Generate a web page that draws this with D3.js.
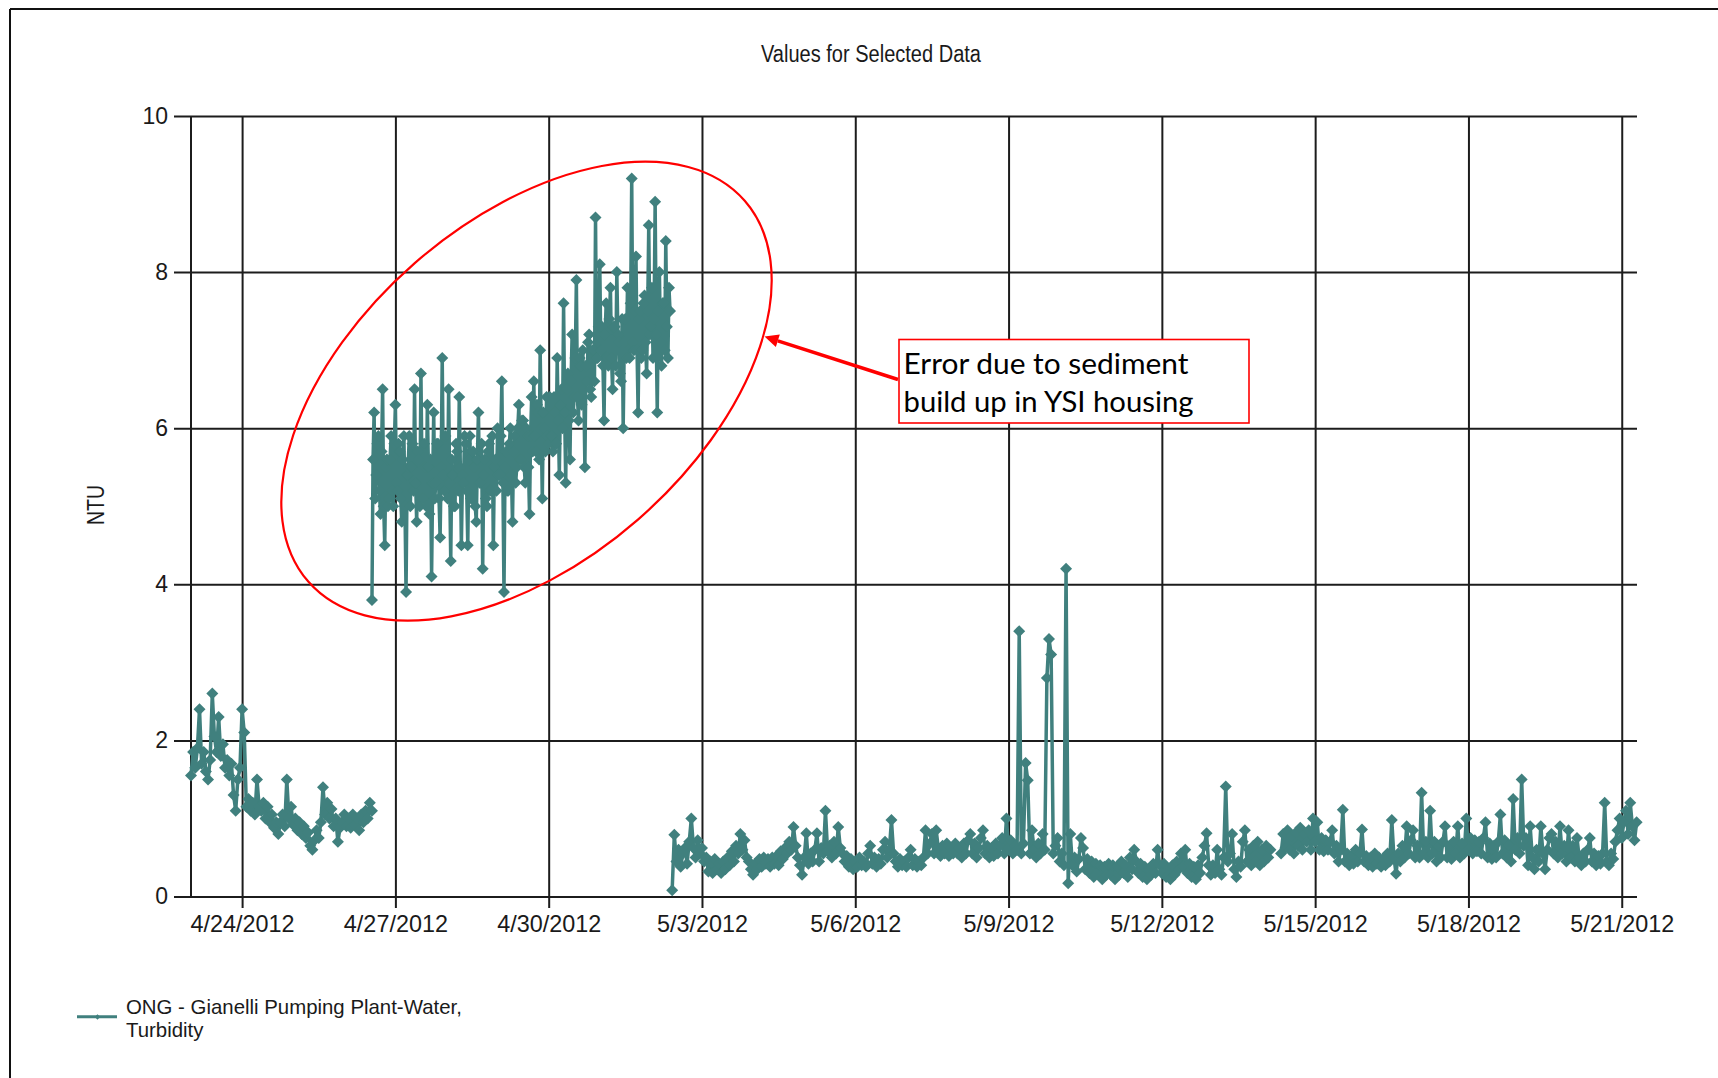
<!DOCTYPE html>
<html>
<head>
<meta charset="utf-8">
<script src="https://cdn.jsdelivr.net/npm/d3@7"></script>
<style>
  body { margin: 0; background: #fff; }
  svg { display: block; }
</style>
</head>
<body>
<svg id="chart" width="1718" height="1078"></svg>
<script>
// ---- data -------------------------------------------------------------
const chartTitle = "Values for Selected Data";
const yAxisLabel = "NTU";
const legendLines = ["ONG - Gianelli Pumping Plant-Water,", "Turbidity"];
const noteLines = ["Error due to sediment", "build up in YSI housing"];

const xTickDates = ["2012-04-24", "2012-04-27", "2012-04-30", "2012-05-03", "2012-05-06",
                    "2012-05-09", "2012-05-12", "2012-05-15", "2012-05-18", "2012-05-21"];
const yTickValues = [0, 2, 4, 6, 8, 10];
const xDomain = ["2012-04-23T00:00", "2012-05-21T07:10"];
const yDomain = [0, 10];

// turbidity readings (NTU); each block is continuous from its start time
const block1Start = "2012-04-23T00:00", block1StepMin = 60;
const block1 = [
  1.55,1.85,1.65,1.9,2.4,1.7,1.85,1.6,1.5,1.75,2.6,2.05,1.85,2.3,1.8,1.95,1.65,1.75,1.55,1.7,1.3,1.1,1.5,1.65,
  2.4,2.1,1.15,1.25,1.1,1.2,1.05,1.5,1.15,1.1,1.2,1.0,1.15,0.95,1.05,0.88,0.95,0.8,0.95,1.05,0.9,1.5,1.0,1.15,
  0.92,1.0,0.85,0.95,0.8,0.9,0.75,0.82,0.65,0.6,0.72,0.85,0.75,0.95,1.4,1.05,1.2,1.0,1.12,0.9,1.0,0.7,0.88,0.95,
  1.05,0.9,1.0,0.88,1.05,0.92,1.0,0.85,1.05,0.95,1.1,1.0,1.2,1.1
];

const block2Start = "2012-04-26T13:00", block2StepMin = 30;
const block2 = [
  3.8,5.6,6.2,5.1,5.4,5.8,5.9,5.2,4.9,5.7,6.5,5.0,4.5,5.5,5.6,5.0,5.1,5.6,5.9,5.2,5.0,5.8,
  6.3,5.3,5.2,5.8,5.7,5.1,4.8,5.6,5.9,5.0,3.9,5.4,5.5,5.9,5.0,5.5,5.8,5.2,6.5,5.3,4.8,5.7,5.6,5.0,6.7,5.4,
  5.1,5.8,5.5,5.0,6.3,5.5,4.9,5.6,4.1,5.3,6.2,5.1,5.3,5.8,5.8,5.1,4.6,5.5,6.9,5.4,5.2,5.9,
  5.6,5.1,6.5,5.3,4.3,5.6,5.4,5.0,5.0,5.8,5.7,5.2,6.4,5.5,4.5,5.4,5.3,5.9,5.8,5.2,4.5,5.6,5.9,5.1,
  5.1,5.7,5.5,5.0,4.8,5.6,6.2,5.3,5.3,5.8,4.2,5.4,5.6,5.1,5.0,5.7,5.8,5.2,5.2,5.9,4.5,5.5,5.6,5.2,
  6.0,5.4,5.4,5.9,6.6,5.3,3.9,5.5,5.7,5.2,5.2,5.8,6.0,5.4,4.8,5.7,5.9,5.3,5.5,6.0,6.3,5.6,5.6,6.1,
  6.1,5.5,5.3,6.0,5.9,5.5,4.9,5.9,6.4,5.7,6.6,5.9,5.7,6.3,6.2,5.6,7.0,6.0,5.1,6.2,6.0,5.7,6.4,5.9,
  5.8,6.4,6.3,5.9,5.7,6.4,6.2,5.8,6.9,6.1,5.4,6.3,6.5,6.0,7.6,6.2,5.3,6.5,6.7,6.1,5.6,6.6,7.2,6.2,
  6.4,6.9,7.9,6.4,6.1,6.9,6.8,6.3,7.0,6.5,5.5,6.8,6.6,7.1,7.2,6.5,6.4,7.0,7.0,6.6,8.7,6.9,6.9,7.3,
  8.1,7.0,7.3,6.8,6.1,7.2,7.6,6.9,6.8,7.4,7.8,6.9,6.5,7.3,7.3,6.8,8.0,7.2,7.1,6.7,6.6,7.4,6.0,7.1,
  7.4,6.9,7.8,7.2,6.9,7.6,9.2,7.1,7.0,7.5,8.2,7.0,6.2,7.4,7.5,6.9,7.0,7.6,7.7,7.1,6.7,7.5,8.6,7.2,
  7.3,7.8,6.9,7.4,8.9,7.2,6.2,7.5,8.0,7.1,6.8,7.6,7.6,7.0,8.4,7.3,6.9,7.8,7.5
];

const block3Start = "2012-05-02T10:00", block3StepMin = 60;
const block3 = [
  0.08,0.79,0.45,0.6,0.38,0.55,0.62,0.42,0.7,1.0,0.62,0.5,0.72,0.55,
  0.62,0.45,0.5,0.32,0.45,0.3,0.48,0.35,0.42,0.3,0.45,0.35,0.5,0.4,0.58,0.45,0.65,0.55,0.8,0.6,0.72,0.5,0.45,0.35,
  0.28,0.42,0.35,0.48,0.38,0.5,0.42,0.48,0.38,0.5,0.42,0.52,0.4,0.58,0.48,0.62,0.55,0.7,0.6,0.89,0.65,0.5,0.4,0.28,
  0.5,0.81,0.42,0.55,0.45,0.6,0.81,0.45,0.62,0.55,1.1,0.58,0.65,0.5,0.7,0.55,0.89,0.62,0.55,0.45,0.52,0.38,0.48,0.35,
  0.45,0.38,0.5,0.4,0.45,0.38,0.55,0.65,0.42,0.5,0.38,0.48,0.42,0.6,0.7,0.5,0.6,0.98,0.55,0.45,0.38,0.48,0.4,0.45,
  0.38,0.5,0.6,0.4,0.48,0.38,0.45,0.4,0.5,0.85,0.55,0.68,0.8,0.55,0.85,0.62,0.52,0.65,0.55,0.68,0.52,0.62,0.55,0.68,
  0.55,0.62,0.5,0.68,0.55,0.72,0.8,0.55,0.68,0.5,0.62,0.75,0.85,0.55,0.65,0.5,0.62,0.52,0.68,0.55,0.65,0.75,0.55,1.0,
  0.62,0.72,0.55,0.65,0.6,3.4,0.55,0.68,1.71,1.49,0.55,0.85,0.6,0.5,0.68,0.55,0.8,0.6,2.8,3.3,3.1,0.55,0.65,0.75,
  0.45,0.55,0.4,4.2,0.17,0.8,0.4,0.5,0.32,0.48,0.75,0.62,0.35,0.48,0.3,0.45,0.25,0.42,0.3,0.4,0.22,0.38,0.28,0.42,
  0.28,0.4,0.22,0.38,0.28,0.45,0.3,0.4,0.25,0.5,0.35,0.6,0.45,0.3,0.42,0.25,0.38,0.22,0.35,0.28,0.42,0.3,0.6,0.4,
  0.3,0.42,0.25,0.35,0.22,0.4,0.28,0.45,0.35,0.55,0.38,0.6,0.3,0.42,0.25,0.38,0.22,0.4,0.3,0.5,0.65,0.81,0.4,0.28,
  0.4,0.3,0.6,0.35,0.28,0.5,1.41,0.45,0.55,0.8,0.35,0.25,0.45,0.38,0.7,0.85,0.45,0.6,0.4,0.65,0.45,0.7,0.4,0.6,
  0.45,0.65,0.5,0.6
];

const block4Start = "2012-05-14T08:00", block4StepMin = 60;
const block4 = [
  0.55,0.8,0.62,0.85,0.6,0.78,0.55,0.82,0.65,0.88,0.6,0.8,0.7,0.85,0.6,1.0,
  0.7,0.95,0.6,0.75,0.58,0.72,0.6,0.7,0.85,0.55,0.65,0.45,0.6,1.11,0.45,0.55,0.4,0.52,0.42,0.6,0.45,0.55,0.86,0.45,
  0.52,0.4,0.5,0.38,0.55,0.42,0.5,0.38,0.48,0.4,0.55,0.45,0.98,0.5,0.29,0.55,0.45,0.65,0.5,0.9,0.55,0.72,0.85,0.5,
  0.65,0.5,1.33,0.55,0.7,0.5,1.1,0.55,0.7,0.45,0.65,0.5,0.7,0.9,0.5,0.65,0.48,0.7,0.55,0.9,0.5,0.68,0.55,1.0,
  0.6,0.75,0.55,0.72,0.58,0.7,0.55,0.75,0.95,0.5,0.68,0.48,0.65,0.5,0.7,1.05,0.55,0.72,0.5,0.65,0.45,1.25,0.6,0.75,
  0.55,1.5,0.65,0.75,0.4,0.9,0.5,0.35,0.6,0.45,0.9,0.55,0.35,0.6,0.75,0.8,0.55,0.7,0.5,0.9,0.55,0.65,0.45,0.85,
  0.5,0.65,0.45,0.75,0.5,0.4,0.55,0.45,0.6,0.75,0.45,0.55,0.4,0.52,0.42,0.55,1.2,0.45,0.4,0.55,0.48,0.7,0.85,1.0,
  0.75,0.95,1.1,0.8,1.2,0.9,0.72,0.95
];

// ---- setup ------------------------------------------------------------
const seriesColor = "#40807e";
const gridColor = "#1c1c1c";
const textColor = "#1a1a1a";
const sans = "'Liberation Sans', Arial, sans-serif";

const parseTime = d3.timeParse("%Y-%m-%dT%H:%M");
const parseDay = d3.timeParse("%Y-%m-%d");

const svg = d3.select("#chart");

const x = d3.scaleTime()
  .domain(xDomain.map(parseTime))
  .range([191, 1637]);
const y = d3.scaleLinear()
  .domain(yDomain)
  .range([896.5, 116]);

// join the blocks into one series, with a break between blocks
const blocks = [
  { start: block1Start, step: block1StepMin, values: block1 },
  { start: block2Start, step: block2StepMin, values: block2 },
  { start: block3Start, step: block3StepMin, values: block3 },
  { start: block4Start, step: block4StepMin, values: block4 }
];
const points = [];
blocks.forEach((b, k) => {
  const t0 = parseTime(b.start);
  b.values.forEach((v, i) => points.push({ t: d3.timeMinute.offset(t0, i * b.step), v }));
  if (k < blocks.length - 1) points.push({ t: null, v: null });
});

// ---- frame ------------------------------------------------------------
svg.append("line").attr("x1", 10).attr("x2", 1718).attr("y1", 9).attr("y2", 9)
  .attr("stroke", "#111").attr("stroke-width", 2);
svg.append("line").attr("x1", 10).attr("x2", 10).attr("y1", 9).attr("y2", 1078)
  .attr("stroke", "#111").attr("stroke-width", 2);

// ---- title ------------------------------------------------------------
svg.append("text")
  .attr("x", 871).attr("y", 62)
  .attr("text-anchor", "middle")
  .attr("font-family", sans).attr("font-size", 23)
  .attr("textLength", 220).attr("lengthAdjust", "spacingAndGlyphs")
  .attr("fill", textColor)
  .text(chartTitle);

// ---- axes & grid ------------------------------------------------------
const xRight = x.range()[1];
const gy = svg.append("g")
  .attr("transform", `translate(${xRight},0)`)
  .call(d3.axisLeft(y).tickValues(yTickValues).tickSize(xRight - 174).tickPadding(6)
    .tickFormat(d3.format("d")));
gy.select(".domain").remove();
gy.selectAll(".tick line").attr("stroke", gridColor).attr("stroke-width", 2);
gy.selectAll(".tick text")
  .attr("font-family", sans).attr("font-size", 23).attr("fill", textColor);

const gx = svg.append("g")
  .attr("transform", `translate(0,${y(10)})`)
  .call(d3.axisBottom(x).tickValues(xTickDates.map(parseDay)).tickSize(908 - y(10)).tickPadding(7)
    .tickFormat(d3.timeFormat("%-m/%-d/%Y")));
gx.select(".domain").remove();
gx.selectAll(".tick line").attr("stroke", gridColor).attr("stroke-width", 2);
gx.selectAll(".tick text")
  .attr("font-family", sans).attr("font-size", 23.4).attr("fill", textColor);

// left axis line
svg.append("line")
  .attr("x1", x.range()[0]).attr("x2", x.range()[0])
  .attr("y1", y(10)).attr("y2", y(0))
  .attr("stroke", gridColor).attr("stroke-width", 2);

// y axis title
svg.append("text")
  .attr("transform", "translate(104,505) rotate(-90)")
  .attr("text-anchor", "middle")
  .attr("font-family", sans).attr("font-size", 23)
  .attr("textLength", 40).attr("lengthAdjust", "spacingAndGlyphs")
  .attr("fill", textColor)
  .text(yAxisLabel);

// ---- series -----------------------------------------------------------
const line = d3.line()
  .defined(d => d.v != null)
  .x(d => x(d.t))
  .y(d => y(d.v));

svg.append("path")
  .datum(points)
  .attr("fill", "none")
  .attr("stroke", seriesColor)
  .attr("stroke-width", 3.5)
  .attr("stroke-linejoin", "round")
  .attr("d", line);

const marker = d3.symbol().type(d3.symbolSquare).size(72);
svg.append("g")
  .selectAll("path")
  .data(points.filter(d => d.v != null))
  .join("path")
  .attr("transform", d => `translate(${x(d.t)},${y(d.v)}) rotate(45)`)
  .attr("d", marker)
  .attr("fill", seriesColor);

// ---- legend -----------------------------------------------------------
svg.append("line")
  .attr("x1", 77).attr("x2", 117).attr("y1", 1016.7).attr("y2", 1016.7)
  .attr("stroke", seriesColor).attr("stroke-width", 3);
svg.append("path")
  .attr("transform", "translate(97.5,1017) rotate(45)")
  .attr("d", d3.symbol().type(d3.symbolSquare).size(14))
  .attr("fill", seriesColor);
svg.append("text")
  .attr("font-family", sans).attr("font-size", 20.4).attr("fill", textColor)
  .selectAll("tspan")
  .data(legendLines)
  .join("tspan")
  .attr("x", 126)
  .attr("y", (d, i) => 1014 + i * 22.7)
  .text(d => d);

// ---- annotation -------------------------------------------------------
const noteRed = "#ff0000";
svg.append("ellipse")
  .attr("transform", "translate(526.5,391.2) rotate(-41.1)")
  .attr("rx", 289.6).attr("ry", 170)
  .attr("fill", "none").attr("stroke", noteRed).attr("stroke-width", 2.2);

// arrow from the note box to the ellipse
const tail = [898, 379.5], tip = [764.5, 336.5];
const ang = Math.atan2(tip[1] - tail[1], tip[0] - tail[0]);
const headLen = 14, headHalf = 6.5;
const base = [tip[0] - headLen * Math.cos(ang), tip[1] - headLen * Math.sin(ang)];
svg.append("line")
  .attr("x1", tail[0]).attr("y1", tail[1]).attr("x2", base[0]).attr("y2", base[1])
  .attr("stroke", noteRed).attr("stroke-width", 3.5);
svg.append("path")
  .attr("d", d3.line()([
    tip,
    [base[0] + headHalf * Math.sin(ang), base[1] - headHalf * Math.cos(ang)],
    [base[0] - headHalf * Math.sin(ang), base[1] + headHalf * Math.cos(ang)]
  ]) + "Z")
  .attr("fill", noteRed);

svg.append("rect")
  .attr("x", 899).attr("y", 339.5).attr("width", 350).attr("height", 83.5)
  .attr("fill", "#fff").attr("stroke", noteRed).attr("stroke-width", 1.6);
const noteWidths = [285, 290];
svg.append("g")
  .selectAll("text")
  .data(noteLines)
  .join("text")
  .attr("x", 903.5)
  .attr("y", (d, i) => 374 + i * 37.7)
  .attr("font-family", "Lato, 'Open Sans', sans-serif")
  .attr("font-size", 29)
  .attr("textLength", (d, i) => noteWidths[i])
  .attr("lengthAdjust", "spacingAndGlyphs")
  .attr("fill", "#000")
  .text(d => d);
</script>
</body>
</html>
